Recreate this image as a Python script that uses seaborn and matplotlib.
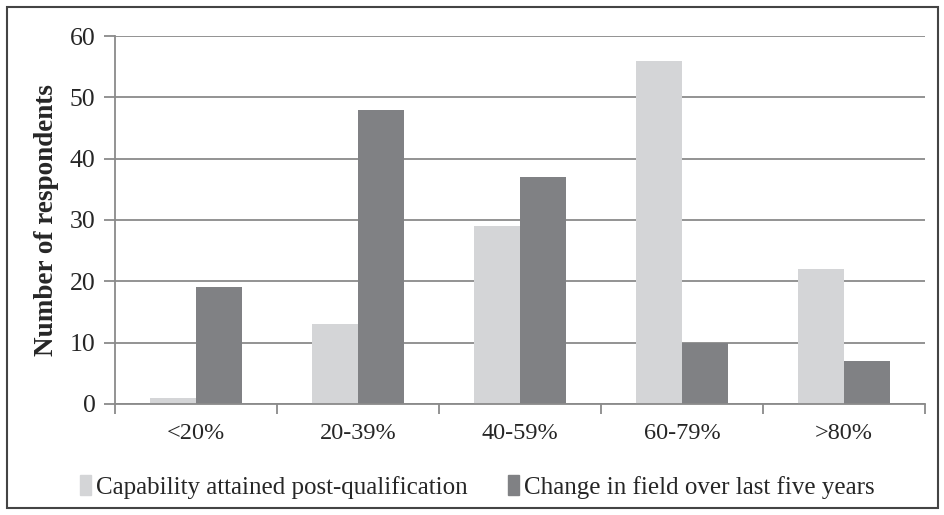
import matplotlib
matplotlib.use("Agg")
import matplotlib.pyplot as plt
import matplotlib.patches as mpatches
import numpy as np
import pandas as pd
import seaborn as sns

categories = ["<20%", "20-39%", "40-59%", "60-79%", ">80%"]
capability = [1, 13, 29, 56, 22]
change = [19, 48, 37, 10, 7]
series_names = ["Capability attained post-qualification",
                "Change in field over last five years"]
colors = ["#d4d5d7", "#808184"]

df = pd.DataFrame({
    "category": categories * 2,
    "value": capability + change,
    "series": [series_names[0]] * 5 + [series_names[1]] * 5,
})

sns.set_style("white")
plt.rcParams['font.family'] = 'serif'
plt.rcParams['font.serif'] = ['Liberation Serif', 'DejaVu Serif']

fig = plt.figure(figsize=(9.45, 5.15), dpi=100)
ax = fig.add_axes([115 / 945, 1 - 404 / 515, 810 / 945, 368 / 515])

sns.barplot(data=df, x="category", y="value", hue="series", order=categories,
            hue_order=series_names, palette=colors, width=0.57, gap=0,
            saturation=1, linewidth=0, ax=ax, legend=False)

grid_c = "#8a8a8a"
ax.set_ylim(0, 60)
ax.set_xlim(-0.5, 4.5)
ax.set_yticks(np.arange(0, 61, 10))
ax.yaxis.grid(True, color=grid_c, linewidth=1.3)
ax.set_axisbelow(True)
for s in ["top", "right"]:
    ax.spines[s].set_visible(False)
for s in ["left", "bottom"]:
    ax.spines[s].set_color(grid_c)
    ax.spines[s].set_linewidth(1.3)

ax.tick_params(axis="y", length=8, width=1.3, color=grid_c, labelsize=18.5, pad=6, left=True)
ax.tick_params(axis="x", which="major", length=0, labelsize=17.5, pad=14)
ax.set_xticks(np.arange(-0.5, 4.6, 1), minor=True)
ax.tick_params(axis="x", which="minor", length=7, width=1.3, color=grid_c, bottom=True)

ax.set_xlabel("")
ax.set_ylabel("Number of respondents", fontsize=19.5, fontweight="bold", labelpad=8)

handles = [mpatches.Patch(color=c, label=n) for c, n in zip(colors, series_names)]
fig.legend(handles=handles, loc="center", bbox_to_anchor=(0.505, 1 - 487 / 515),
           ncol=2, frameon=False, fontsize=18, handlelength=0.45, handleheight=0.8,
           handletextpad=0.2, columnspacing=1.6)

fig.patches.append(mpatches.Rectangle((7 / 945, 7 / 515), 931 / 945, 501 / 515,
                                      transform=fig.transFigure, fill=False,
                                      edgecolor="#444444", linewidth=1.5))

fig.savefig("out.png", dpi=100)
